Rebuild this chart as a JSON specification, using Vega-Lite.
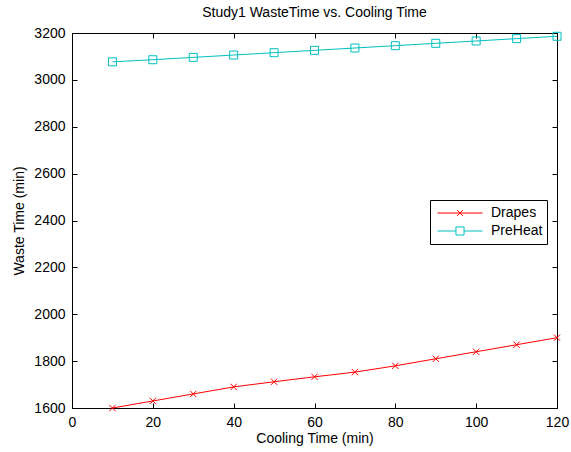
{
  "$schema": "https://vega.github.io/schema/vega-lite/v6.json",
  "autosize": "none",
  "width": 485,
  "height": 375,
  "padding": {"left": 72, "top": 33, "right": 14, "bottom": 44},
  "background": "white",
  "config": {
    "font": "Liberation Sans",
    "view": {"stroke": "black", "strokeWidth": 1},
    "axis": {"grid": false, "domainColor": "black", "tickColor": "black", "labelColor": "black", "titleColor": "black", "labelFontSize": 14, "titleFontSize": 14, "titleFontWeight": "normal", "tickSize": -5, "labelPadding": 12, "labelFlush": false, "labelOverlap": false}
  },
  "title": {"text": "Study1 WasteTime vs. Cooling Time", "fontSize": 14, "fontWeight": "normal", "color": "black", "offset": 6},
  "data": {"values": [
    {"t": 10, "s": "Drapes", "v": 1600},
    {"t": 20, "s": "Drapes", "v": 1630},
    {"t": 30, "s": "Drapes", "v": 1660},
    {"t": 40, "s": "Drapes", "v": 1690},
    {"t": 50, "s": "Drapes", "v": 1712},
    {"t": 60, "s": "Drapes", "v": 1733},
    {"t": 70, "s": "Drapes", "v": 1753},
    {"t": 80, "s": "Drapes", "v": 1780},
    {"t": 90, "s": "Drapes", "v": 1810},
    {"t": 100, "s": "Drapes", "v": 1840},
    {"t": 110, "s": "Drapes", "v": 1870},
    {"t": 120, "s": "Drapes", "v": 1900},
    {"t": 10, "s": "PreHeat", "v": 3077},
    {"t": 20, "s": "PreHeat", "v": 3086},
    {"t": 30, "s": "PreHeat", "v": 3096},
    {"t": 40, "s": "PreHeat", "v": 3106},
    {"t": 50, "s": "PreHeat", "v": 3116},
    {"t": 60, "s": "PreHeat", "v": 3126},
    {"t": 70, "s": "PreHeat", "v": 3136},
    {"t": 80, "s": "PreHeat", "v": 3146},
    {"t": 90, "s": "PreHeat", "v": 3156},
    {"t": 100, "s": "PreHeat", "v": 3166},
    {"t": 110, "s": "PreHeat", "v": 3176},
    {"t": 120, "s": "PreHeat", "v": 3186}
  ]},
  "resolve": {"axis": {"x": "independent", "y": "independent"}},
  "layer": [
    {
      "mark": {"type": "line", "strokeWidth": 1},
      "encoding": {
        "x": {"field": "t", "type": "quantitative", "scale": {"domain": [0, 120], "nice": false}, "axis": {"values": [0, 20, 40, 60, 80, 100, 120], "title": "Cooling Time (min)", "titlePadding": 2}},
        "y": {"field": "v", "type": "quantitative", "scale": {"domain": [1600, 3200], "nice": false, "zero": false}, "axis": {"values": [1600, 1800, 2000, 2200, 2400, 2600, 2800, 3000, 3200], "format": "d", "title": "Waste Time (min)", "titlePadding": 7}},
        "color": {"field": "s", "type": "nominal", "scale": {"domain": ["Drapes", "PreHeat"], "range": ["#ff0000", "#00bfbf"]},
          "legend": {"orient": "none", "legendX": 358, "legendY": 167, "title": null, "strokeColor": "black", "fillColor": "white", "padding": 4, "labelFontSize": 14, "labelColor": "black", "symbolSize": 2025, "symbolStrokeWidth": 1, "symbolFillColor": "transparent", "symbolType": "M-1,0H1", "rowPadding": 0, "clipHeight": 18, "labelOffset": 8, "symbolOffset": 3,
            "encode": {"symbols": {"update": {"shape": {"signal": "datum.value == 'Drapes' ? 'M-1,0H1M-0.13,-0.13L0.13,0.13M-0.13,0.13L0.13,-0.13' : 'M-1,0H-0.18M0.18,0H1M-0.18,-0.18H0.18V0.18H-0.18Z'"}, "fill": {"value": "transparent"}}}}}}
      }
    },
    {
      "transform": [{"filter": "datum.s == 'Drapes'"}],
      "mark": {"type": "point", "filled": false, "strokeWidth": 1, "opacity": 1, "shape": "M-1,-1L1,1M-1,1L1,-1", "size": 40},
      "encoding": {
        "x": {"field": "t", "type": "quantitative", "axis": {"orient": "top", "values": [0, 20, 40, 60, 80, 100, 120], "labels": false, "title": null}},
        "y": {"field": "v", "type": "quantitative", "axis": {"orient": "right", "values": [1600, 1800, 2000, 2200, 2400, 2600, 2800, 3000, 3200], "labels": false, "title": null}},
        "color": {"field": "s", "type": "nominal", "legend": null}
      }
    },
    {
      "transform": [{"filter": "datum.s == 'PreHeat'"}],
      "mark": {"type": "point", "filled": false, "strokeWidth": 1, "opacity": 1, "shape": "square", "size": 64},
      "encoding": {
        "x": {"field": "t", "type": "quantitative", "axis": null},
        "y": {"field": "v", "type": "quantitative", "axis": null},
        "color": {"field": "s", "type": "nominal", "legend": null}
      }
    }
  ]
}
